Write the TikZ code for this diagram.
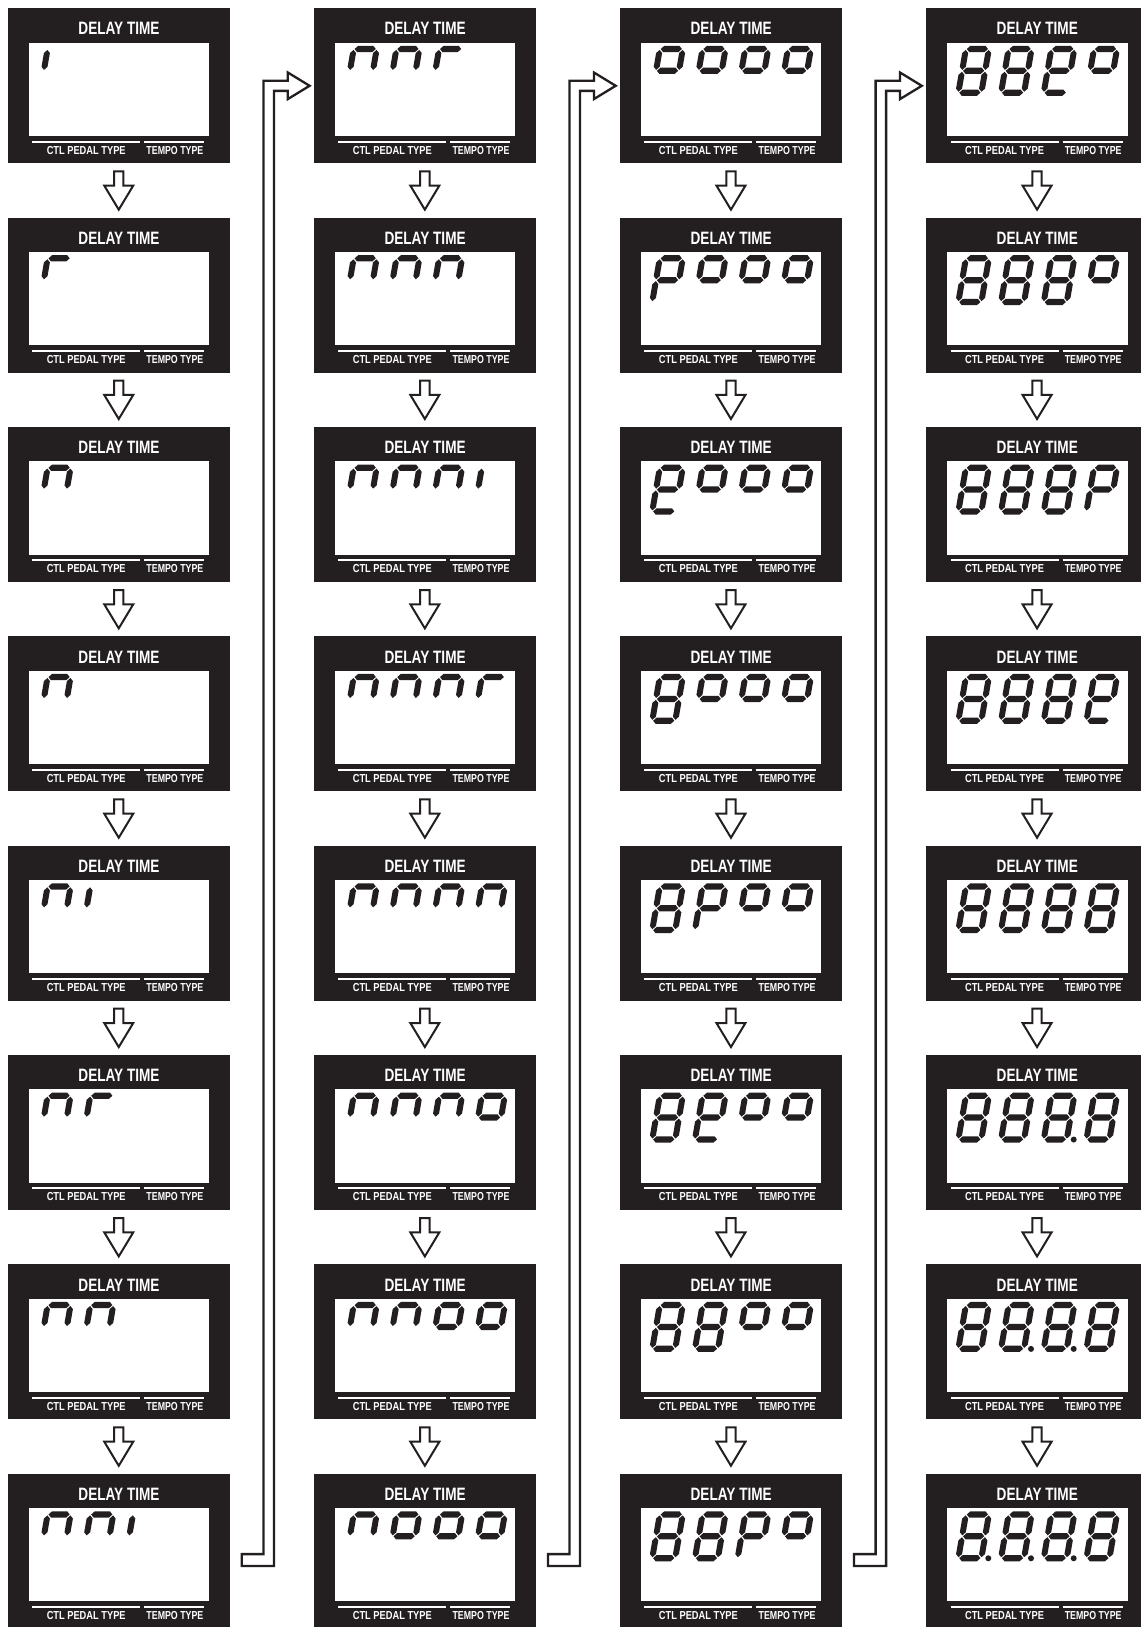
\documentclass[tikz,border=0pt]{standalone}
\usepackage{fontspec}
\usepackage{graphicx}
\newfontfamily\lcdsans{Liberation Sans}
\usetikzlibrary{calc}
\definecolor{lcdblack}{RGB}{35,31,32}
\tikzset{
  lcdbody/.style={rectangle, fill=lcdblack, draw=none, minimum width=222.5pt, minimum height=155pt, inner sep=0pt, outer sep=0pt},
  lcdtitle/.style={text=white, font=\lcdsans\bfseries\fontsize{17.9}{18}\selectfont, inner sep=0pt, anchor=base},
  lcdlabel/.style={text=white, font=\lcdsans\bfseries\fontsize{11.6}{12}\selectfont, inner sep=0pt, anchor=base},
  lcdseg/.style={fill=lcdblack, draw=none},
  lcdrule/.style={white, line width=2pt},
  flowarrow/.style={draw=lcdblack, fill=white, line width=2pt, line join=miter},
  flowlink/.style={draw=lcdblack, fill=white, line width=2.3pt, line join=miter},
}
\newcommand\lcdsega{\fill[lcdseg] (3.9,45) -- (6.9,48) -- (22.1,48) -- (25.1,45) -- (22.1,42) -- (6.9,42) -- cycle;}
\newcommand\lcdsegb{\fill[lcdseg] (26,24.9) -- (29,27.9) -- (29,41.1) -- (26,44.1) -- (23,41.1) -- (23,27.9) -- cycle;}
\newcommand\lcdsegc{\fill[lcdseg] (26,3.9) -- (29,6.9) -- (29,20.1) -- (26,23.1) -- (23,20.1) -- (23,6.9) -- cycle;}
\newcommand\lcdsegd{\fill[lcdseg] (3.9,3) -- (6.9,6) -- (22.1,6) -- (25.1,3) -- (22.1,0) -- (6.9,0) -- cycle;}
\newcommand\lcdsege{\fill[lcdseg] (3,3.9) -- (6,6.9) -- (6,20.1) -- (3,23.1) -- (0,20.1) -- (0,6.9) -- cycle;}
\newcommand\lcdsegf{\fill[lcdseg] (3,24.9) -- (6,27.9) -- (6,41.1) -- (3,44.1) -- (0,41.1) -- (0,27.9) -- cycle;}
\newcommand\lcdsegg{\fill[lcdseg] (3.9,24) -- (6.9,27) -- (22.1,27) -- (25.1,24) -- (22.1,21) -- (6.9,21) -- cycle;}
\newcommand\lcddigit[3]{%
  \begin{scope}[shift={(#1,#2)}, x={(1pt,0pt)}, y={(0.18pt,1.04pt)}]
    \foreach \s in {#3}{\csname lcdseg\s\endcsname}
  \end{scope}}
\newcommand\lcddot[1]{\fill[lcdseg] (\bx+29+42.7*#1+33.5,\by+84.5) circle (3pt);}
\newcommand\lcdbox[8]{%
  \pgfmathsetmacro\bx{7.5+306.1*#2}%
  \pgfmathsetmacro\by{8.3+209.35*#3}%
  \node[lcdbody] (#1) at (\bx+111.25,\by+77.5) {};
  \fill[white] (\bx+21,\by+34.4) rectangle (\bx+201.7,\by+127.7);
  \draw[lcdrule] (\bx+24.7,\by+133.4) -- (\bx+132.7,\by+133.4);
  \draw[lcdrule] (\bx+136.7,\by+133.4) -- (\bx+196.7,\by+133.4);
  \node[lcdtitle] (#1t) at (\bx+111.5,\by+26.7) {\scalebox{0.76}[1]{DELAY TIME}};
  \node[lcdlabel] (#1c) at (\bx+78.7,\by+145.7) {\scalebox{0.8}[1]{CTL PEDAL TYPE}};
  \node[lcdlabel] (#1p) at (\bx+167.4,\by+145.7) {\scalebox{0.76}[1]{TEMPO TYPE}};
  \lcddigit{\bx+29}{\by+87.5}{#4}
  \lcddigit{\bx+71.7}{\by+87.5}{#5}
  \lcddigit{\bx+114.4}{\by+87.5}{#6}
  \lcddigit{\bx+157.1}{\by+87.5}{#7}
  \def\lcddots{#8}%
  \ifx\lcddots\empty\else\foreach \k in {#8}{\lcddot{\k}}\fi
}
\newcommand\flowdown[2]{%
  \draw[flowarrow] ($(#1.south)+(-4.65,8)$) -- ($(#1.south)+(4.65,8)$) -- ($(#1.south)+(4.65,22.3)$) -- ($(#1.south)+(14.5,22.3)$) -- ($(#2.north)+(0,-8)$) -- ($(#1.south)+(-14.5,22.3)$) -- ($(#1.south)+(-4.65,22.3)$) -- cycle;}
\newcommand\flowover[2]{%
  \coordinate (#1v1) at ($(#1.east)+(33.4,0)$);
  \coordinate (#1v2) at ($(#1.east)+(43.9,0)$);
  \coordinate (#2h1) at ($(#2.west)+(0,-5.1)$);
  \coordinate (#2h2) at ($(#2.west)+(0,5.1)$);
  \draw[flowlink] ($(#1.east)+(11.8,2.85)$) -- ($(#1.east)+(33.4,2.85)$) -- (#1v1 |- #2h1) -- ($(#2.west)+(-25.8,-5.1)$) -- ($(#2.west)+(-25.8,-13.3)$) -- ($(#2.west)+(-4,0)$) -- ($(#2.west)+(-25.8,13.3)$) -- ($(#2.west)+(-25.8,5.1)$) -- (#1v2 |- #2h2) -- ($(#1.east)+(43.9,14.65)$) -- ($(#1.east)+(11.8,14.65)$) -- cycle;}
\begin{document}
\begin{tikzpicture}[x=1pt,y=-1pt]
\path[fill=white,use as bounding box] (0,0) rectangle (1140,1627);
% column 1
\lcdbox{d00}{0}{0}{f}{}{}{}{}
\lcdbox{d01}{0}{1}{f,a}{}{}{}{}
\lcdbox{d02}{0}{2}{f,a,b}{}{}{}{}
\lcdbox{d03}{0}{3}{f,a,b}{}{}{}{}
\lcdbox{d04}{0}{4}{f,a,b}{f}{}{}{}
\lcdbox{d05}{0}{5}{f,a,b}{f,a}{}{}{}
\lcdbox{d06}{0}{6}{f,a,b}{f,a,b}{}{}{}
\lcdbox{d07}{0}{7}{f,a,b}{f,a,b}{f}{}{}
% column 2
\lcdbox{d10}{1}{0}{f,a,b}{f,a,b}{f,a}{}{}
\lcdbox{d11}{1}{1}{f,a,b}{f,a,b}{f,a,b}{}{}
\lcdbox{d12}{1}{2}{f,a,b}{f,a,b}{f,a,b}{f}{}
\lcdbox{d13}{1}{3}{f,a,b}{f,a,b}{f,a,b}{f,a}{}
\lcdbox{d14}{1}{4}{f,a,b}{f,a,b}{f,a,b}{f,a,b}{}
\lcdbox{d15}{1}{5}{f,a,b}{f,a,b}{f,a,b}{f,a,b,g}{}
\lcdbox{d16}{1}{6}{f,a,b}{f,a,b}{f,a,b,g}{f,a,b,g}{}
\lcdbox{d17}{1}{7}{f,a,b}{f,a,b,g}{f,a,b,g}{f,a,b,g}{}
% column 3
\lcdbox{d20}{2}{0}{f,a,b,g}{f,a,b,g}{f,a,b,g}{f,a,b,g}{}
\lcdbox{d21}{2}{1}{f,a,b,g,e}{f,a,b,g}{f,a,b,g}{f,a,b,g}{}
\lcdbox{d22}{2}{2}{f,a,b,g,e,d}{f,a,b,g}{f,a,b,g}{f,a,b,g}{}
\lcdbox{d23}{2}{3}{a,b,c,d,e,f,g}{f,a,b,g}{f,a,b,g}{f,a,b,g}{}
\lcdbox{d24}{2}{4}{a,b,c,d,e,f,g}{f,a,b,g,e}{f,a,b,g}{f,a,b,g}{}
\lcdbox{d25}{2}{5}{a,b,c,d,e,f,g}{f,a,b,g,e,d}{f,a,b,g}{f,a,b,g}{}
\lcdbox{d26}{2}{6}{a,b,c,d,e,f,g}{a,b,c,d,e,f,g}{f,a,b,g}{f,a,b,g}{}
\lcdbox{d27}{2}{7}{a,b,c,d,e,f,g}{a,b,c,d,e,f,g}{f,a,b,g,e}{f,a,b,g}{}
% column 4
\lcdbox{d30}{3}{0}{a,b,c,d,e,f,g}{a,b,c,d,e,f,g}{f,a,b,g,e,d}{f,a,b,g}{}
\lcdbox{d31}{3}{1}{a,b,c,d,e,f,g}{a,b,c,d,e,f,g}{a,b,c,d,e,f,g}{f,a,b,g}{}
\lcdbox{d32}{3}{2}{a,b,c,d,e,f,g}{a,b,c,d,e,f,g}{a,b,c,d,e,f,g}{f,a,b,g,e}{}
\lcdbox{d33}{3}{3}{a,b,c,d,e,f,g}{a,b,c,d,e,f,g}{a,b,c,d,e,f,g}{f,a,b,g,e,d}{}
\lcdbox{d34}{3}{4}{a,b,c,d,e,f,g}{a,b,c,d,e,f,g}{a,b,c,d,e,f,g}{a,b,c,d,e,f,g}{}
\lcdbox{d35}{3}{5}{a,b,c,d,e,f,g}{a,b,c,d,e,f,g}{a,b,c,d,e,f,g}{a,b,c,d,e,f,g}{2}
\lcdbox{d36}{3}{6}{a,b,c,d,e,f,g}{a,b,c,d,e,f,g}{a,b,c,d,e,f,g}{a,b,c,d,e,f,g}{1,2}
\lcdbox{d37}{3}{7}{a,b,c,d,e,f,g}{a,b,c,d,e,f,g}{a,b,c,d,e,f,g}{a,b,c,d,e,f,g}{0,1,2}
% down arrows
\foreach \c in {0,1,2,3}{
  \foreach \r [evaluate=\r as \n using int(\r+1)] in {0,...,6}{
    \flowdown{d\c\r}{d\c\n}
  }
}
% column links
\flowover{d07}{d10}
\flowover{d17}{d20}
\flowover{d27}{d30}
\end{tikzpicture}
\end{document}
